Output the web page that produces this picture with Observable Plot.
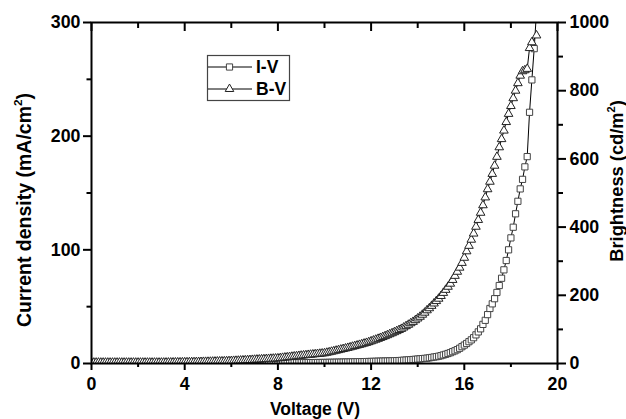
<!DOCTYPE html>
<html><head><meta charset="utf-8">
<script src="https://cdn.jsdelivr.net/npm/d3@7"></script>
<script src="https://cdn.jsdelivr.net/npm/@observablehq/plot@0.6"></script>
<style>
body{margin:0;background:#fff}
#chart svg{font-family:"Liberation Sans",Arial,sans-serif;font-weight:bold}
</style>
</head><body><div id="chart"></div>
<script>
const voltage = [
0,0.1,0.2,0.3,0.4,0.5,0.6,0.7,0.8,0.9,
1,1.1,1.2,1.3,1.4,1.5,1.6,1.7,1.8,1.9,
2,2.1,2.2,2.3,2.4,2.5,2.6,2.7,2.8,2.9,
3,3.1,3.2,3.3,3.4,3.5,3.6,3.7,3.8,3.9,
4,4.1,4.2,4.3,4.4,4.5,4.6,4.7,4.8,4.9,
5,5.1,5.2,5.3,5.4,5.5,5.6,5.7,5.8,5.9,
6,6.1,6.2,6.3,6.4,6.5,6.6,6.7,6.8,6.9,
7,7.1,7.2,7.3,7.4,7.5,7.6,7.7,7.8,7.9,
8,8.1,8.2,8.3,8.4,8.5,8.6,8.7,8.8,8.9,
9,9.1,9.2,9.3,9.4,9.5,9.6,9.7,9.8,9.9,
10,10.1,10.2,10.3,10.4,10.5,10.6,10.7,10.8,10.9,
11,11.1,11.2,11.3,11.4,11.5,11.6,11.7,11.8,11.9,
12,12.1,12.2,12.3,12.4,12.5,12.6,12.7,12.8,12.9,
13,13.1,13.2,13.3,13.4,13.5,13.6,13.7,13.8,13.9,
14,14.1,14.2,14.3,14.4,14.5,14.6,14.7,14.8,14.9,
15,15.1,15.2,15.3,15.4,15.5,15.6,15.7,15.8,15.9,
16,16.1,16.2,16.3,16.4,16.5,16.6,16.7,16.8,16.9,
17,17.1,17.2,17.3,17.4,17.5,17.6,17.7,17.8,17.9,
18,18.1,18.2,18.3,18.4,18.5,18.6,18.7,18.8,18.9,
19,19.1];

// Current density (mA/cm^2), I-V
const currentDensity = [
0.3,0.3,0.3,0.3,0.3,0.3,0.3,0.3,0.3,0.3,
0.3,0.3,0.3,0.3,0.3,0.3,0.3,0.3,0.3,0.3,
0.3,0.3,0.3,0.3,0.3,0.3,0.3,0.3,0.3,0.3,
0.3,0.3,0.3,0.3,0.3,0.3,0.3,0.3,0.3,0.3,
0.3,0.3,0.3,0.3,0.3,0.3,0.3,0.3,0.3,0.3,
0.3,0.31,0.31,0.32,0.32,0.33,0.33,0.34,0.34,0.35,
0.35,0.36,0.36,0.37,0.37,0.38,0.38,0.39,0.39,0.40,
0.41,0.42,0.43,0.44,0.45,0.46,0.46,0.47,0.48,0.49,
0.5,0.52,0.54,0.56,0.58,0.6,0.62,0.64,0.66,0.68,
0.7,0.72,0.74,0.76,0.78,0.8,0.82,0.84,0.86,0.88,
0.9,0.94,0.98,1.02,1.06,1.1,1.14,1.18,1.22,1.26,
1.3,1.35,1.4,1.45,1.5,1.55,1.6,1.65,1.7,1.75,
1.8,1.86,1.92,1.98,2.04,2.1,2.16,2.22,2.28,2.34,
2.4,2.5,2.6,2.7,2.9,3.0,3.2,3.3,3.5,3.7,
3.9,4.1,4.3,4.5,4.7,5.0,5.3,5.7,6.0,6.4,
6.9,7.5,8.1,8.8,9.5,10.4,11.2,12.2,13.4,14.8,
16.2,17.6,19.2,20.8,22.7,25.2,27.8,30.5,34.4,38.0,
43.0,48.4,52.5,57.0,62.5,68.6,75,82.4,90.6,100,
110.5,119.9,131.7,142.7,153.6,162,173,182,221,249.5,
277,310];

// Brightness (cd/m^2), B-V
const brightness = [
2.5,2.5,2.5,2.5,2.5,2.5,2.5,2.5,2.5,2.5,
2.5,2.5,2.5,2.5,2.5,2.5,2.5,2.5,2.5,2.5,
2.5,2.5,2.5,2.5,2.5,2.5,2.5,2.5,2.5,2.5,
2.5,2.6,2.7,2.8,2.9,3.0,3.1,3.2,3.3,3.4,
3.5,3.6,3.7,3.9,4.0,4.2,4.3,4.5,4.7,4.8,
5.0,5.2,5.4,5.6,5.8,6.0,6.2,6.4,6.7,7.0,
7.3,7.6,7.9,8.2,8.6,9.0,9.4,9.8,10.2,10.6,
11.0,11.4,11.8,12.2,12.6,13.0,13.4,13.8,14.2,14.6,
15.0,15.8,16.6,17.4,18.2,19.0,19.8,20.6,21.4,22.2,
23.0,23.7,24.4,25.1,25.8,26.5,27.2,27.9,28.6,29.3,
30.0,31.5,33.0,34.5,36.0,37.6,39.2,40.8,42.4,44.0,
45.7,47.4,49.2,51.0,52.8,54.6,56.5,58.4,60.4,62.6,
65.0,67.4,69.8,72.3,74.9,77.5,80.2,83.0,85.9,88.8,
91.8,94.9,98.1,101.4,105.5,109.5,113.5,118,122,127,
132,137,143,149,156,162,169,176,183,190,
198,207,216,225,234,245,257,269,281,295,
310,329,345,363,381,401,421,442,464,487,
511,533,556,580,606,634,658,683,708,732,
755,778,800,822,844,857,860,864,925,942,
null,962];

const seriesNames = ["I-V", "B-V"];
const xTicks = [0, 4, 8, 12, 16, 20];
const xMinorTicks = [2, 6, 10, 14, 18];
const leftTicks = [0, 100, 200, 300];
const leftMinorTicks = [50, 150, 250];
const rightTicks = [0, 200, 400, 600, 800, 1000];
const rightMinorTicks = [100, 300, 500, 700, 900];
const leftMax = 300, rightMax = 1000;
const k = leftMax / rightMax;

const iv = voltage.map((v, i) => ({v, y: currentDensity[i]}));
const bv = voltage.map((v, i) => ({v, b: brightness[i]}))
  .filter(d => d.b != null).map(d => ({v: d.v, y: d.b * k}));

const font = '"Liberation Sans", Arial, sans-serif';
const blank = () => "";
const fs = 17.8;

const plot = Plot.plot({
  width: 626, height: 419,
  marginLeft: 91, marginRight: 69, marginTop: 22, marginBottom: 56,
  style: {fontFamily: font, fontSize: fs + "px", fontWeight: "bold", background: "white", color: "black", overflow: "visible"},
  x: {domain: [0, 20]},
  y: {domain: [0, leftMax]},
  marks: [
    Plot.line(iv, {x: "v", y: "y", stroke: "black", strokeWidth: 1, clip: true}),
    Plot.dot(iv, {x: "v", y: "y", symbol: "square", r: 3.5, fill: "white", stroke: "#444", strokeWidth: 1, clip: true}),
    Plot.line(bv, {x: "v", y: "y", stroke: "black", strokeWidth: 1, clip: true}),
    Plot.dot(bv, {x: "v", y: "y", symbol: "triangle", r: 3.2, fill: "white", stroke: "#222", strokeWidth: 1, clip: true}),
    Plot.axisX({ticks: xTicks, tickSize: 7, tickPadding: 7, strokeWidth: 2, fontSize: fs, label: null}),
    Plot.axisX({ticks: xMinorTicks, tickSize: 4, tickFormat: blank, strokeWidth: 2, label: null}),
    Plot.axisX({anchor: "top", ticks: xTicks, tickSize: -8, tickFormat: blank, strokeWidth: 2, label: null}),
    Plot.axisX({anchor: "top", ticks: xMinorTicks, tickSize: -5, tickFormat: blank, strokeWidth: 2, label: null}),
    Plot.axisY({ticks: leftTicks, tickSize: 8, tickPadding: 3, strokeWidth: 2, fontSize: fs, label: null}),
    Plot.axisY({ticks: leftMinorTicks, tickSize: 4.5, tickFormat: blank, strokeWidth: 2, label: null}),
    Plot.axisY({anchor: "right", ticks: rightTicks.map(d => d * k), tickFormat: d => String(Math.round(d / k)), tickSize: 8, tickPadding: 4, strokeWidth: 2, fontSize: fs, label: null}),
    Plot.axisY({anchor: "right", ticks: rightMinorTicks.map(d => d * k), tickSize: 5, tickFormat: blank, strokeWidth: 2, label: null}),
    Plot.frame({stroke: "black", strokeWidth: 2})
  ]
});

document.getElementById("chart").appendChild(plot);

const svg = d3.select(plot);

// Axis titles
const titles = svg.append("g").attr("font-family", font).attr("font-weight", "bold").attr("fill", "black").attr("text-anchor", "middle");
function title(parts, x, y, size, rotate) {
  const t = titles.append("text")
    .attr("transform", `translate(${x},${y})` + (rotate ? " rotate(-90)" : ""))
    .attr("font-size", size).attr("dy", "0.36em");
  parts.forEach(([s, sup]) => {
    const ts = t.append("tspan").text(s);
    if (sup) ts.attr("font-size", "0.6em").attr("dy", "-0.75em");
    else if (t.node().childNodes.length > 1 && parts[parts.indexOf([s, sup]) - 1]) ts;
  });
  return t;
}
// left title
const lt = titles.append("text").attr("transform", "translate(23.5,210) rotate(-90)").attr("font-size", 19.5).attr("dy", "0.36em");
lt.append("tspan").text("Current density (mA/cm");
lt.append("tspan").text("2").attr("font-size", "0.6em").attr("dy", "-0.7em");
lt.append("tspan").text(")").attr("dy", "0.42em");
// right title
const rt = titles.append("text").attr("transform", "translate(616.5,181) rotate(-90)").attr("font-size", 18.3).attr("dy", "0.36em");
rt.append("tspan").text("Brightness (cd/m");
rt.append("tspan").text("2").attr("font-size", "0.6em").attr("dy", "-0.7em");
rt.append("tspan").text(")").attr("dy", "0.42em");
// bottom title
titles.append("text").attr("x", 315).attr("y", 414.5).attr("font-size", 17.5).text("Voltage (V)");

// Legend
const lg = svg.append("g").attr("font-family", font).attr("font-weight", "bold")
  .attr("font-size", 17.5).attr("text-anchor", "start");
lg.append("rect").attr("x", 207.5).attr("y", 55.5).attr("width", 82).attr("height", 45)
  .attr("fill", "white").attr("stroke", "#444").attr("stroke-width", 1.2);
const symbols = [d3.symbolSquare, d3.symbolTriangle];
const rs = [3.5, 3.2];
seriesNames.forEach((name, i) => {
  const cy = 67 + i * 22;
  lg.append("line").attr("x1", 208).attr("x2", 252).attr("y1", cy).attr("y2", cy).attr("stroke", "black").attr("stroke-width", 1);
  lg.append("path").attr("d", d3.symbol(symbols[i], Math.PI * rs[i] * rs[i])())
    .attr("transform", `translate(229.5,${cy})`).attr("fill", "white").attr("stroke", i ? "#222" : "#444");
  lg.append("text").attr("x", 256).attr("y", cy + 6).attr("fill", "black").text(name);
});
</script>
</body></html>
